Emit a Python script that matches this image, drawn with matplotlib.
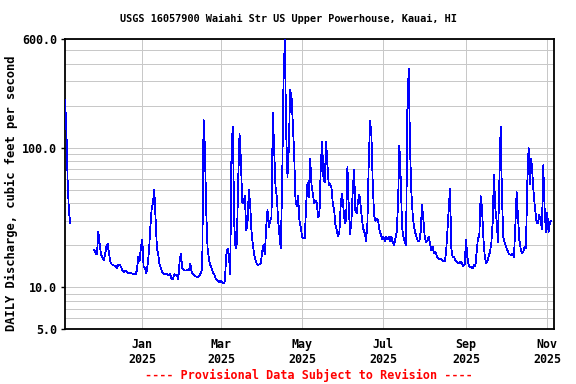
import numpy as np
import pandas as pd
from datetime import datetime

from matplotlib import pyplot as plt
from matplotlib import dates as mdates
from matplotlib import ticker as mticker

nan = np.nan

# Daily discharge (cfs), one value per day starting 2024-11-04
nov24 = [220, 138, 56, 34, 29] + [nan] * 17 + [18.5, 17.5, 17.2, 25, 20.5]
dec24 = [17, 16.5, 15.7, 17, 19.5, 20.5, 17.5, 15.3, 14.6, 14.5, 14.3, 14.2, 13.8, 14.5, 14.6, 14,
         13.3, 12.9, 13.2, 13, 12.8, 12.6, 12.6, 12.6, 12.5, 12.4, 12.4, 13.3, 16.5, 15.5, 19.5]
jan25 = [21.8, 14, 13.7, 12.6, 14.5, 18, 26.5, 36, 40, 50, 31, 19, 17.2, 14.5, 13.7, 12.9,
         12.6, 12.4, 12.4, 12.4, 12.2, 12.4, 11.4, 11.4, 12.4, 12.3, 12.2, 11.4, 15.3, 17.5, 13.7]
feb25 = [13.3, 13.2, 13.2, 13.3, 13.2, 14.8, 12.9, 12.4, 12.2, 12.0, 11.9, 11.9, 12.1, 12.7,
         13.7, 160, 100, 35, 19, 16, 14.5, 13.7, 12.8, 12.4, 11.6, 11.3, 11.1, 10.9]
mar25 = [11.2, 10.9, 10.7, 11, 17, 19, 17, 12.4, 102, 142, 28.8, 19, 20.7, 59, 126, 83,
         41, 40, 45, 25.5, 29, 50, 39, 25, 20, 17.2, 15.7, 14.6, 14.5, 14.6, 14.8]
apr25 = [18, 20, 17.2, 27, 36, 27, 30, 32, 177, 99, 53, 44.6, 30, 23.5, 19, 57, 300,
         600, 130, 62, 100, 260, 235, 150, 91, 42, 38, 45, 30, 27]
may25 = [23, 22.5, 22.5, 39, 56, 44, 84, 55, 47, 40, 42, 40, 32, 33, 75, 110,
         60, 57, 111, 75, 54, 55, 52, 40, 36, 28, 25.5, 23.3, 25, 40, 47]
jun25 = [37, 29, 30, 73, 38, 24, 30, 50, 70, 35, 34, 42, 46, 38, 30, 26,
         24.5, 21.5, 29, 79, 155, 125, 55, 33, 30, 31, 30, 26, 24, 22]
jul25 = [23, 21.5, 23, 22, 23, 21.5, 23, 21, 20, 22.5, 25, 40, 104, 60, 27, 23,
         21.5, 20, 187, 371, 100, 48, 33, 27, 24.5, 22.5, 21.5, 21.5, 25, 39, 31]
aug25 = [23, 21, 21.5, 23, 20.5, 18.5, 19.5, 17.5, 18, 16.8, 16.2, 16, 16, 15.7, 15.3, 15.3,
         17.5, 25, 36, 51, 19, 16.5, 16.5, 15.7, 15.3, 14.8, 14.8, 15.3, 14.8, 14.2, 14.5]
sep25 = [22, 16.5, 14.5, 14, 14, 13.7, 14.5, 14.1, 18, 22.5, 23.5, 45, 37, 23, 17,
         15, 15.2, 16.6, 18, 20.7, 29, 64, 37, 30, 21, 56, 142, 45, 23, 21]
oct25 = [19.5, 18.5, 17.5, 17.2, 17, 17.5, 16.5, 27, 48, 33, 22, 19, 17.5, 18, 19.5, 19,
         55, 100, 55, 83, 62, 44, 36, 29, 29, 33, 30, 26, 75, 37, 25]
nov25 = [34, 25, 29, 30]

flow = nov24 + dec24 + jan25 + feb25 + mar25 + apr25 + may25 + jun25 + jul25 + aug25 + sep25 + oct25 + nov25
dates = pd.date_range('2024-11-04', periods=len(flow), freq='D')

y_ticks = [5, 10, 100, 600]
y_tick_labels = ['5.0', '10.0', '100.0', '600.0']
title = 'USGS 16057900 Waiahi Str US Upper Powerhouse, Kauai, HI'
y_label = 'DAILY Discharge, cubic feet per second'
footer = '---- Provisional Data Subject to Revision ----'

plt.rcParams['font.family'] = ['DejaVu Sans Mono']
plt.rcParams['font.weight'] = 'bold'

W, H = 576, 384
fig = plt.figure(figsize=(W / 100, H / 100), dpi=100)
fig.patch.set_facecolor('white')
ax = fig.add_axes([65.3 / W, 54.7 / H, 489 / W, 290 / H])

# thin crisp line like the original gif
ax.plot(dates, flow, color='#0000ff', lw=0.55, antialiased=False, zorder=3)

# y axis: log scale
ax.set_yscale('log')
ax.set_ylim(5, 600)
ax.yaxis.set_major_locator(mticker.FixedLocator(y_ticks))
ax.yaxis.set_major_formatter(mticker.FixedFormatter(y_tick_labels))
ax.yaxis.set_minor_locator(mticker.LogLocator(base=10, subs=np.arange(2, 10)))
ax.yaxis.set_minor_formatter(mticker.NullFormatter())

# x axis: dates
ax.set_xlim(datetime(2024, 11, 4, 5), datetime(2025, 11, 6, 7))
ax.xaxis.set_major_locator(mdates.MonthLocator(bymonth=[1, 3, 5, 7, 9, 11]))
ax.xaxis.set_major_formatter(mdates.DateFormatter('%b\n%Y'))

ax.grid(which='both', color='#c8c8c8', lw=0.72, antialiased=False)
ax.set_axisbelow(True)

ax.tick_params(axis='y', which='major', length=3, width=1, pad=3, labelsize=8.4)
ax.tick_params(axis='y', which='minor', length=0)
ax.tick_params(axis='x', which='major', length=0, pad=6, labelsize=8.4)
for lbl in ax.get_xticklabels() + ax.get_yticklabels():
    lbl.set_fontweight('bold')

for sp in ax.spines.values():
    sp.set_linewidth(1.3)
    sp.set_color('black')

fig.text(288 / W, 1 - 19 / H, title, ha='center', va='center', fontsize=7.4, fontweight='bold')
fig.text(11.5 / W, 1 - 193 / H, y_label, ha='center', va='center', rotation=90,
         fontsize=8.7, fontweight='bold')
fig.text(309 / W, 1 - 375 / H, footer, ha='center', va='center', fontsize=8.5,
         fontweight='bold', color='#ff0000')

fig.savefig('out.png', dpi=100, facecolor='white')
